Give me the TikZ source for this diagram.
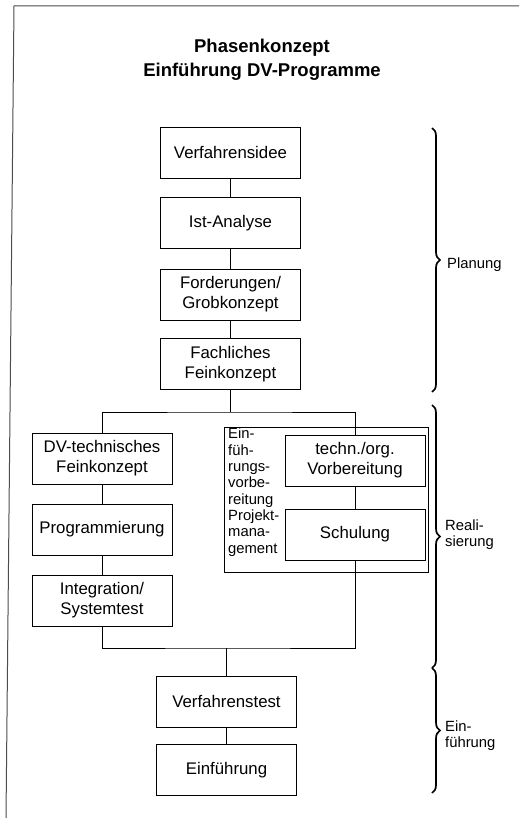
\documentclass[tikz,border=0pt]{standalone}
\usepackage{fontspec}
\setmainfont{Liberation Sans}
\usetikzlibrary{decorations.pathreplacing}
\begin{document}
\begin{tikzpicture}[x=1pt,y=-1pt,
  phase/.style={draw, line width=0.9pt, minimum width=140pt, minimum height=51pt,
    inner sep=0pt, align=center, font=\fontsize{16.8}{20}\selectfont},
  grp/.style={draw, line width=0.9pt, inner sep=0pt},
  conn/.style={line width=0.9pt},
  brc/.style={decorate, decoration={brace, amplitude=8pt}, line width=1.7pt},
  lbl/.style={anchor=west, align=left, inner sep=0pt, font=\fontsize{14.8}{16.3}\selectfont}]
\useasboundingbox (0,0) rectangle (519,818);
% frame
\draw[line width=1pt, black!70] (519,6) -- (14,6) -- (6,818);
% title
\node[align=center, font=\bfseries\fontsize{18.5}{24}\selectfont] (title) at (262,60)
  {Phasenkonzept\\Einführung DV-Programme};
% main column
\node[phase] (v1) at (230.5,152.5) {Verfahrensidee};
\node[phase] (v2) at (230.5,223) {Ist-Analyse};
\node[phase] (v3) at (230.5,294.5) {Forderungen/\\Grobkonzept};
\node[phase] (v4) at (230.5,364) {Fachliches\\Feinkonzept};
% left branch
\node[phase] (d1) at (102,458.5) {DV-technisches\\Feinkonzept};
\node[phase] (d2) at (102,529.5) {Programmierung};
\node[phase] (d3) at (102,600.5) {Integration/\\Systemtest};
% right branch group
\node[grp, minimum width=204pt, minimum height=145pt] (ev) at (326,499.5) {};
\node[anchor=north west, align=left, inner sep=0pt,
  font=\fontsize{14.8}{16.3}\selectfont] (evl) at (228,428)
  {Ein-\\füh-\\rungs-\\vorbe-\\reitung\\Projekt-\\mana-\\gement};
\node[phase] (t1) at (355,460.5) {techn./org.\\Vorbereitung};
\node[phase] (t2) at (355,534.5) {Schulung};
% bottom
\node[phase] (e1) at (226.5,701.5) {Verfahrenstest};
\node[phase] (e2) at (226.5,770) {Einführung};
% junctions
\coordinate (j1) at (230.5,412);
\coordinate (j2) at (226.5,648);
% connectors
\draw[conn] (v1) -- (v2);
\draw[conn] (v2) -- (v3);
\draw[conn] (v3) -- (v4);
\draw[conn] (v4.south) -- (j1);
\draw[conn] (d1.north) |- (j1) -| (t1.north);
\draw[conn] (d1) -- (d2);
\draw[conn] (d2) -- (d3);
\draw[conn] (t1) -- (t2);
\draw[conn] (d3.south) |- (j2) -| (t2.south);
\draw[conn] (j2) -- (e1.north);
\draw[conn] (e1) -- (e2);
% braces
\coordinate (b0) at (432,128);
\coordinate (b1) at (432,392);
\coordinate (b2) at (432,405);
\coordinate (b3) at (432,668);
\coordinate (b4) at (432,793);
\draw[brc] (b0) -- (b1);
\draw[brc] (b2) -- (b3);
\draw[brc] (b3) -- (b4);
\node[lbl] (l1) at (447,265) {Planung};
\node[lbl] (l2) at (445,535) {Reali-\\sierung};
\node[lbl] (l3) at (445,736) {Ein-\\führung};
\end{tikzpicture}
\end{document}
